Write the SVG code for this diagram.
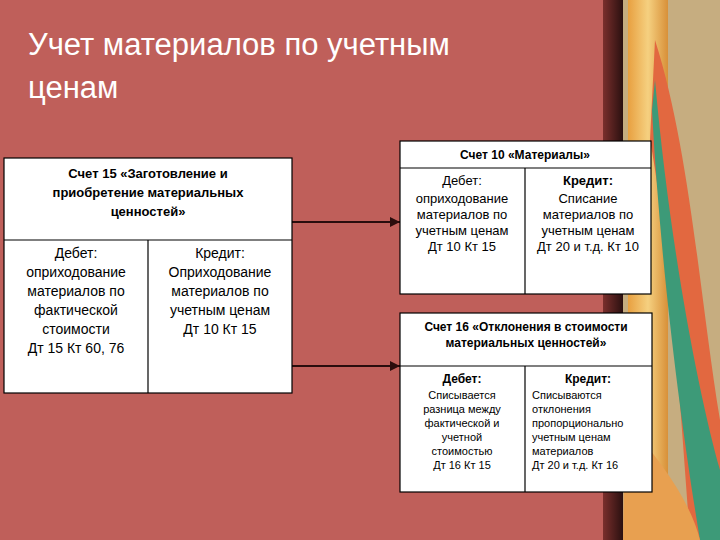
<svg xmlns="http://www.w3.org/2000/svg" width="720" height="540" viewBox="0 0 720 540">
<defs>
<linearGradient id="sh" x1="0" x2="1"><stop offset="0" stop-color="#7a2f2c"/><stop offset="1" stop-color="#2a1010"/></linearGradient>
<linearGradient id="gold" x1="0" x2="1"><stop offset="0" stop-color="#e8a040"/><stop offset="0.5" stop-color="#f5d080"/><stop offset="1" stop-color="#d89038"/></linearGradient>
<marker id="ar" viewBox="0 0 10 10" refX="10" refY="5" markerWidth="5" markerHeight="5" orient="auto"><path d="M0,0L10,5L0,10z" fill="#2a0d0d"/></marker>
<style>
.bx{fill:#fff;stroke:#000;stroke-width:1.2}
.ln{stroke:#000;stroke-width:1.2}
.t{font-family:"Liberation Sans",Arial,sans-serif;font-size:14px;fill:#000;text-anchor:middle}
.b{font-weight:bold;font-size:13px}
.s{font-size:11px}
.c{stroke:#2a0d0d;stroke-width:2;marker-end:url(#ar);fill:none}
.ttl{font-family:"Liberation Sans",Arial,sans-serif;font-size:31px;fill:#fff}
</style>
</defs>
<rect width="720" height="540" fill="#bf5f5a"/>
<rect x="603" y="0" width="20" height="540" fill="url(#sh)"/>
<rect x="623" y="0" width="97" height="540" fill="#c6ad80"/>
<rect x="628" y="0" width="40" height="540" fill="url(#gold)"/>
<path d="M655,40 C690,150 700,300 720,420 L720,540 L690,540 C680,400 670,250 650,140z" fill="#e26840"/>
<path d="M655,80 C670,250 700,400 720,470 L720,540 L700,540 C680,420 660,260 652,110z" fill="#3d9a78"/>
<path d="M625,420 C660,460 690,500 700,540 L623,540z" fill="#e8a050"/>
<text class="ttl" x="28" y="55">Учет материалов по учетным</text>
<text class="ttl" x="28" y="98">ценам</text>
<g id="connectors">
<line class="c" x1="292" y1="222" x2="400" y2="222"/>
<line class="c" x1="292" y1="366" x2="400" y2="366"/>
</g>
<g id="acc15">
<rect class="bx" x="4" y="158" width="288" height="235"/>
<line class="ln" x1="4" y1="240" x2="292" y2="240"/>
<line class="ln" x1="148" y1="240" x2="148" y2="393"/>
<text class="t b" x="148" y="178">Счет 15 «Заготовление и</text>
<text class="t b" x="148" y="197">приобретение материальных</text>
<text class="t b" x="148" y="216">ценностей»</text>
<text class="t" x="76" y="258">Дебет:</text>
<text class="t" x="76" y="277">оприходование</text>
<text class="t" x="76" y="296">материалов по</text>
<text class="t" x="76" y="315">фактической</text>
<text class="t" x="76" y="334">стоимости</text>
<text class="t" x="76" y="353">Дт 15 Кт 60, 76</text>
<text class="t" x="220" y="258">Кредит:</text>
<text class="t" x="220" y="277">Оприходование</text>
<text class="t" x="220" y="296">материалов по</text>
<text class="t" x="220" y="315">учетным ценам</text>
<text class="t" x="220" y="334">Дт 10 Кт 15</text>
</g>
<g id="acc10">
<rect class="bx" x="400" y="141" width="251" height="153"/>
<line class="ln" x1="400" y1="168" x2="651" y2="168"/>
<line class="ln" x1="525" y1="168" x2="525" y2="294"/>
<text class="t b" x="525" y="159" style="font-size:12px">Счет 10 «Материалы»</text>
<text class="t" x="462" y="185" style="font-size:13px">Дебет:</text>
<text class="t" x="462" y="203" style="font-size:13px">оприходование</text>
<text class="t" x="462" y="219" style="font-size:13px">материалов по</text>
<text class="t" x="462" y="235" style="font-size:13px">учетным ценам</text>
<text class="t" x="462" y="251" style="font-size:13px">Дт 10 Кт 15</text>
<text class="t b" x="588" y="185">Кредит:</text>
<text class="t" x="588" y="203" style="font-size:13px">Списание</text>
<text class="t" x="588" y="219" style="font-size:13px">материалов по</text>
<text class="t" x="588" y="235" style="font-size:13px">учетным ценам</text>
<text class="t" x="588" y="251" style="font-size:13px">Дт 20 и т.д. Кт 10</text>
</g>
<g id="acc16">
<rect class="bx" x="400" y="313" width="252" height="179"/>
<line class="ln" x1="400" y1="366" x2="652" y2="366"/>
<line class="ln" x1="525" y1="366" x2="525" y2="492"/>
<text class="t b" x="526" y="331" style="font-size:12px">Счет 16 «Отклонения в стоимости</text>
<text class="t b" x="526" y="347" style="font-size:12px">материальных ценностей»</text>
<text class="t b" x="462" y="383" style="font-size:12px">Дебет:</text>
<text class="t s" x="462" y="399">Списывается</text>
<text class="t s" x="462" y="413">разница между</text>
<text class="t s" x="462" y="427">фактической и</text>
<text class="t s" x="462" y="441">учетной</text>
<text class="t s" x="462" y="455">стоимостью</text>
<text class="t s" x="462" y="469">Дт 16 Кт 15</text>
<text class="t b" x="588" y="383" style="font-size:12px">Кредит:</text>
<text class="t s" x="532" y="399" style="text-anchor:start">Списываются</text>
<text class="t s" x="532" y="413" style="text-anchor:start">отклонения</text>
<text class="t s" x="532" y="427" style="text-anchor:start">пропорционально</text>
<text class="t s" x="532" y="441" style="text-anchor:start">учетным ценам</text>
<text class="t s" x="532" y="455" style="text-anchor:start">материалов</text>
<text class="t s" x="532" y="469" style="text-anchor:start">Дт 20 и т.д. Кт 16</text>
</g>
</svg>
